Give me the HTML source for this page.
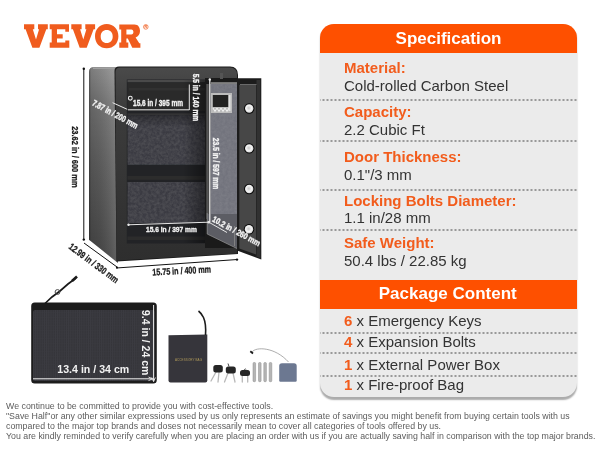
<!DOCTYPE html>
<html><head><meta charset="utf-8">
<style>
html,body{margin:0;padding:0;width:600px;height:450px;overflow:hidden;background:#fff;}
body{position:relative;font-family:"Liberation Sans",sans-serif;}
#panel,#foot,svg{will-change:transform;}
.a{position:absolute;white-space:nowrap;}
#panel{position:absolute;left:320px;top:24px;width:257px;height:373px;background:#ebebeb;border-radius:14px;box-shadow:0 2.5px 1.5px rgba(0,0,0,0.33);overflow:hidden;}
.hdr{position:absolute;left:0;width:257px;background:#fe5000;color:#fff;font-weight:bold;font-size:17px;text-align:center;}
.lab{position:absolute;left:24px;color:#f25c1c;font-weight:bold;font-size:15px;line-height:15px;}
.val{position:absolute;left:24px;color:#333;font-size:15px;line-height:15px;}
.dot{position:absolute;left:0;width:257px;height:2px;background-image:radial-gradient(circle,#999 0.9px,transparent 1.1px);background-size:4px 2px;background-position:1.5px 0;}
.it{position:absolute;left:24px;color:#333;font-size:15px;line-height:15px;}
.it b{color:#f25c1c;}
#foot{position:absolute;left:6px;top:401px;font-size:8.8px;line-height:10px;color:#5c5c5c;}
</style></head><body>

<svg class="a" style="left:0;top:0" width="320" height="400" viewBox="0 0 320 400">

  <defs>
    <linearGradient id="gsideV" x1="0" y1="0" x2="0" y2="1">
      <stop offset="0" stop-color="#8e8e8e"/><stop offset="0.18" stop-color="#737373"/><stop offset="0.5" stop-color="#5e5e5e"/><stop offset="1" stop-color="#464646"/>
    </linearGradient>
    <linearGradient id="gsideH" gradientUnits="userSpaceOnUse" x1="89" y1="0" x2="115" y2="0">
      <stop offset="0" stop-color="#000" stop-opacity="0.4"/><stop offset="0.08" stop-color="#000" stop-opacity="0.12"/><stop offset="0.4" stop-color="#000" stop-opacity="0.05"/><stop offset="0.8" stop-color="#fff" stop-opacity="0.06"/><stop offset="1" stop-color="#fff" stop-opacity="0.12"/>
    </linearGradient>
    <linearGradient id="gshadeR" x1="0" y1="0" x2="1" y2="0">
      <stop offset="0" stop-color="#000" stop-opacity="0"/><stop offset="0.7" stop-color="#000" stop-opacity="0"/><stop offset="1" stop-color="#000" stop-opacity="0.45"/>
    </linearGradient>
    <linearGradient id="gframe" x1="0" y1="0" x2="0" y2="1">
      <stop offset="0" stop-color="#4a4a4a"/><stop offset="0.2" stop-color="#3c3c3c"/><stop offset="1" stop-color="#2e2e2e"/>
    </linearGradient>
    <linearGradient id="gshadeT" x1="0" y1="0" x2="0" y2="1">
      <stop offset="0" stop-color="#000" stop-opacity="0.3"/><stop offset="1" stop-color="#000" stop-opacity="0"/>
    </linearGradient>
    <radialGradient id="gbolt" cx="0.45" cy="0.45" r="0.6">
      <stop offset="0" stop-color="#c8c8c8"/><stop offset="0.55" stop-color="#f4f4f4"/><stop offset="1" stop-color="#d0d0d0"/>
    </radialGradient>
    <filter id="felt" x="0" y="0" width="1" height="1">
      <feTurbulence type="fractalNoise" baseFrequency="0.35" numOctaves="3" seed="5" result="n"/>
      <feColorMatrix in="n" type="matrix" values="1.2 0 0 0 -0.35  1.2 0 0 0 -0.35  1.2 0 0 0 -0.35  0 0 0 0 0.05" result="g"/>
      <feComposite in="g" in2="SourceGraphic" operator="in" result="gi"/>
      <feMerge><feMergeNode in="SourceGraphic"/><feMergeNode in="gi"/></feMerge>
    </filter>
  </defs>
  <!-- safe -->
  <g id="safe">
    <path d="M89,72 Q89,67 94,67 L118,67 L118,263 L89,239.7 Z" fill="url(#gsideV)"/>
    <path d="M89,72 Q89,67 94,67 L118,67 L118,263 L89,239.7 Z" fill="url(#gsideH)"/>
    <rect x="93" y="67.5" width="21" height="1.5" fill="#a0a0a0"/>
        <path d="M114.5,71 Q114.5,66.5 119,66.5 L230,66.5 Q238,66.5 238,75 L238,254 L116.5,261.5 Z" fill="#1a1a1a"/>
    <path d="M115.5,72 Q115.5,67.5 120,67.5 L230,67.5 Q237,67.5 237,75 L237,253.5 L116.5,260.5 Z" fill="url(#gframe)"/>
    <rect x="126.8" y="79.5" width="80.5" height="164" fill="#222326"/>
    <rect x="127.5" y="80" width="79" height="2.3" fill="#4a4a4a"/>
    <rect x="127.5" y="82.5" width="79" height="28.5" fill="#2a2a2a"/>
    <rect x="129" y="88" width="77" height="2.5" fill="#313131"/>
    <rect x="127.5" y="115.3" width="79" height="49.5" fill="#3c3e45" filter="url(#felt)"/>
    <rect x="127.5" y="115.3" width="79" height="12" fill="url(#gshadeT)"/>
    <rect x="127.5" y="113.5" width="79" height="1.3" fill="#383838"/>
    <rect x="127.5" y="176" width="79" height="3.8" fill="#2c2c2c"/>
    <rect x="127.5" y="182" width="79" height="41" fill="#3c3e45" filter="url(#felt)"/>
    <rect x="127.5" y="236.5" width="79" height="3.5" fill="#2c2c2c"/>
    <rect x="127.5" y="80" width="79" height="163" fill="url(#gshadeR)"/>
    <!-- door inner -->
    <rect x="205" y="78" width="33" height="170" fill="#1a1a1a"/>
    <rect x="206.3" y="84" width="2.5" height="135" fill="#555"/>
    <rect x="210.3" y="84" width="27" height="131" fill="#767780" filter="url(#felt)"/>
    <path d="M207,214 L237,214 L237,248.5 L207,234 Z" fill="#5c5d64"/>
    <path d="M207.2,213 L207.2,234 L237,248.5" stroke="#8a8a8a" stroke-width="0.8" fill="none"/>
    <path d="M234.5,226 L234.5,246" stroke="#8a8a8a" stroke-width="0.8" fill="none"/>
    <rect x="211" y="82.3" width="47" height="1.5" fill="#9a9a9a"/>
    <rect x="220" y="73" width="3" height="6" fill="#555"/>
    <rect x="211" y="93" width="21" height="20" fill="#bcbcbc"/>
    <rect x="212.8" y="95" width="15.7" height="12" fill="#222"/>
    <rect x="228.5" y="95" width="2" height="16" fill="#e0e0e0"/>
    <path d="M213,108 L215,111.5 L217,108 L219,111.5 L221,108 L223,111.5 L225,108 L227,111.5 L229,108" stroke="#f2f2f2" stroke-width="1" fill="none"/>
    <rect x="209" y="79" width="1.5" height="143" fill="#d0d0d0"/><circle cx="209.8" cy="79.5" r="1.2" fill="#eee"/>
    <!-- door front -->
    <path d="M237,78.3 L261.3,78.3 L261.3,259.6 L237,250.5 Z" fill="#1c1c1c"/>
    <path d="M256.5,80 L260.3,80 L260.3,258 L256.5,256.5 Z" fill="#313131"/>
    <path d="M239.3,85 L256,85 L256,254.5 L239.3,248.5 Z" fill="#474747"/>
    <rect x="240" y="84" width="16.5" height="1" fill="#6a6a6a"/>
    <g fill="#0a0a0a"><circle cx="249.2" cy="108.5" r="5.2"/><circle cx="249.2" cy="148.4" r="5.2"/><circle cx="249.2" cy="189" r="5.2"/><circle cx="249" cy="229.3" r="5.2"/></g>
    <g fill="url(#gbolt)"><circle cx="249.2" cy="108.5" r="4.2"/><circle cx="249.2" cy="148.4" r="4.2"/><circle cx="249.2" cy="189" r="4.2"/><circle cx="249" cy="229.3" r="4.2"/></g>
  </g>
  <!-- dimension lines -->
  <g stroke="#111" stroke-width="1" fill="none">
    <line x1="83.8" y1="68.5" x2="83.8" y2="240"/>
    <line x1="84" y1="243" x2="117" y2="267"/>
    <line x1="116.3" y1="268" x2="237.5" y2="259.5"/>
  </g>
  <g fill="#111"><circle cx="83.8" cy="68.8" r="1.2"/><circle cx="83.8" cy="239.6" r="1.2"/><circle cx="237" cy="259.6" r="1.2"/><circle cx="117" cy="267.6" r="1.1"/></g>
  <g fill="#eee"><circle cx="128.5" cy="224.8" r="1.2"/><circle cx="208.8" cy="222.2" r="1.3"/></g>
  <g stroke="#e6e6e6" stroke-width="1" fill="none">
    <line x1="128" y1="109.8" x2="189.3" y2="109.8"/>
    <line x1="189.3" y1="84.5" x2="189.3" y2="110"/>
    <line x1="128" y1="224.8" x2="208.8" y2="222.2"/>
    <line x1="112.6" y1="102.7" x2="127.2" y2="109.3"/>
    <line x1="208.8" y1="222.2" x2="227" y2="232.5"/>
  </g>
  <circle cx="130.3" cy="98.2" r="1.9" fill="none" stroke="#eee" stroke-width="1.1"/>
  <g font-family="Liberation Sans" font-weight="bold">
    <text transform="translate(72,126.2) rotate(90)" font-size="9.5" textLength="61.4" lengthAdjust="spacingAndGlyphs" fill="#1a1a1a" stroke="#1a1a1a" stroke-width="0.3">23.62 in / 600 mm</text>
    <text x="133" y="106.2" font-size="8.5" textLength="50" lengthAdjust="spacingAndGlyphs" fill="#f4f4f4" stroke="#f4f4f4" stroke-width="0.35">15.6 in / 395 mm</text>
    <text transform="translate(193,73.7) rotate(90)" font-size="8.8" textLength="47.6" lengthAdjust="spacingAndGlyphs" fill="#f4f4f4" stroke="#f4f4f4" stroke-width="0.35">5.5 in / 140 mm</text>
    <text transform="translate(213,137.8) rotate(90)" font-size="8.8" textLength="51.5" lengthAdjust="spacingAndGlyphs" fill="#f4f4f4" stroke="#f4f4f4" stroke-width="0.35">23.5 in / 597 mm</text>
    <text x="146" y="232.3" font-size="8" textLength="50.8" lengthAdjust="spacingAndGlyphs" fill="#f4f4f4" stroke="#f4f4f4" stroke-width="0.35">15.6 in / 397 mm</text>
    <text transform="translate(91.5,105) rotate(28.3)" font-size="9" textLength="50.5" lengthAdjust="spacingAndGlyphs" fill="#f4f4f4" stroke="#f4f4f4" stroke-width="0.35">7.87 in / 200 mm</text>
    <text transform="translate(211.5,221) rotate(28.5)" font-size="8.5" textLength="53.5" lengthAdjust="spacingAndGlyphs" fill="#f4f4f4" stroke="#f4f4f4" stroke-width="0.35">10.2 in / 260 mm</text>
    <text transform="translate(68,248) rotate(36.7)" font-size="9.5" textLength="59.5" lengthAdjust="spacingAndGlyphs" fill="#1a1a1a" stroke="#1a1a1a" stroke-width="0.3">12.99 in / 330 mm</text>
    <text transform="translate(152.5,275.5) rotate(-3)" font-size="9.5" textLength="58.8" lengthAdjust="spacingAndGlyphs" fill="#1a1a1a" stroke="#1a1a1a" stroke-width="0.3">15.75 in / 400 mm</text>
  </g>

  <!-- bag -->
  <defs>
    <pattern id="mesh" width="2.2" height="2.6" patternUnits="userSpaceOnUse">
      <rect width="2.2" height="2.6" fill="#35353a"/><rect width="0.8" height="2.6" fill="#3c3c42"/><rect width="2.2" height="0.5" fill="#39393f"/>
    </pattern>
  </defs>
  <g id="bag">
    <rect x="31.2" y="302.5" width="125.6" height="81" rx="3.5" fill="#1c1c1c"/>
    <rect x="33" y="310" width="121.5" height="71" rx="2" fill="url(#mesh)"/>
    <path d="M45,303.5 L52,297 L60,291 L68,284 L76,278" stroke="#1a1a1a" stroke-width="1.7" fill="none"/><path d="M72,281 L77,276.5" stroke="#1a1a1a" stroke-width="2.6"/>
    <circle cx="57.5" cy="292" r="2.4" fill="none" stroke="#444" stroke-width="1"/>
    <line x1="33" y1="378.8" x2="152" y2="378.8" stroke="#eee" stroke-width="1"/><path d="M148.5,377 L152.5,378.8 L148.5,380.6" stroke="#eee" stroke-width="0.9" fill="none"/>
    <line x1="153.6" y1="305" x2="153.6" y2="381.5" stroke="#eee" stroke-width="1"/><path d="M151.8,377.5 L153.6,381.5 L155.4,377.5" stroke="#eee" stroke-width="0.9" fill="none"/>
    <text x="57.3" y="372.7" font-family="Liberation Sans" font-weight="bold" font-size="11" textLength="72" lengthAdjust="spacingAndGlyphs" fill="#f2f2f2">13.4 in / 34 cm</text>
    <text transform="translate(142,310) rotate(90)" font-family="Liberation Sans" font-weight="bold" font-size="11" textLength="65.3" lengthAdjust="spacingAndGlyphs" fill="#f2f2f2">9.4 in / 24 cm</text>
  </g>
  <!-- accessories -->
  <g id="acc">
    <path d="M168.5,335.2 L207.3,334.5 L207.3,380.5 Q207.3,382.5 205.3,382.5 L170.5,382.5 Q168.5,382.5 168.5,380.5 Z" fill="#36353b"/>
    <path d="M205.5,335 C206,328 205.5,322 203.5,317.5 C202,314.5 200.5,312.5 198.5,311" stroke="#1c1c1c" stroke-width="1.6" fill="none"/>
    <text x="175" y="361" font-family="Liberation Sans" font-size="3" fill="#b09a5a" textLength="27">ACCESSORY BAG</text>
    <g stroke="#b8b8b8" stroke-width="1.3" stroke-linecap="round"><line x1="216" y1="372" x2="211" y2="381"/><line x1="219" y1="372" x2="218" y2="382"/><line x1="228" y1="373" x2="224.5" y2="382"/><line x1="233" y1="373" x2="235" y2="382"/><line x1="242.3" y1="375" x2="242.3" y2="382"/><line x1="247.7" y1="375" x2="247.7" y2="382"/></g>
    <g fill="#262626"><rect x="213.3" y="365" width="9.5" height="7.5" rx="2.5"/><rect x="225.8" y="366.5" width="10" height="7" rx="2.5"/><rect x="240" y="370" width="10" height="6" rx="2.5"/></g>
    <path d="M229,366.5 L228,363.5" stroke="#444" stroke-width="1"/><path d="M244,370 Q245,367.5 246.5,370" stroke="#444" stroke-width="0.8" fill="none"/>
    <g fill="#b5b5b5" stroke="#8a8a8a" stroke-width="0.5"><rect x="253" y="362.5" width="2.6" height="19.2" rx="1"/><rect x="258.5" y="362.5" width="2.6" height="19.2" rx="1"/><rect x="263.8" y="362.5" width="2.6" height="19.2" rx="1"/><rect x="269.2" y="362.5" width="2.6" height="19.2" rx="1"/></g>
    <path d="M252,352 C256,346.5 275,347 288.5,362" stroke="#8a8a8a" stroke-width="0.7" fill="none"/>
    <path d="M250.3,351.3 L253,353.5" stroke="#1a1a1a" stroke-width="1.8"/>
    <path d="M279.2,366 Q279.2,363.3 282,363.3 L294,363.3 Q296.7,363.3 296.7,366 L296.7,380.5 Q296.7,381.7 295.5,381.7 L280.4,381.7 Q279.2,381.7 279.2,380.5 Z" fill="#6c7891"/>
  </g>
  <!-- VEVOR logo -->
  <g fill="#f05c1e" fill-rule="evenodd"><path d="M24,24.3 H34.3 V29.3 H32.8 L36,39.6 L39.1,29.3 H38 V24.3 H47.8 V29.3 H46.3 L39.4,47.8 H32.4 L25.6,29.3 H24 Z"/><path d="M49.7,24.3 H69 V31.7 H65.3 V29.3 H57 V34.2 H62.7 V38.4 H57 V42.6 H65.3 V40.5 H69.3 V47.8 H49.7 V42.6 H51.7 V29.3 H49.7 Z"/><path transform="translate(47.3,0)" d="M24,24.3 H34.3 V29.3 H32.8 L36,39.6 L39.1,29.3 H38 V24.3 H47.8 V29.3 H46.3 L39.4,47.8 H32.4 L25.6,29.3 H24 Z"/><path d="M106.7,24 C113.5,24 118.4,29.2 118.4,36.2 C118.4,43.2 113.5,48.3 106.7,48.3 C99.9,48.3 95,43.2 95,36.2 C95,29.2 99.9,24 106.7,24 Z M106.7,30 C103,30 100.7,32.6 100.7,36.5 C100.7,40.4 103,43 106.7,43 C110.4,43 112.7,40.4 112.7,36.5 C112.7,32.6 110.4,30 106.7,30 Z"/><path d="M119.3,24.4 H134.5 C138.3,24.4 140,27.3 140,31 C140,34.2 138.3,36.6 135.6,37.6 L139.3,43.2 H140.4 V47.8 H132.3 L127.8,38.6 H126.4 V42.6 H128.3 V47.8 H119.3 V42.6 H121.2 V29.5 H119.3 Z M126.4,29.4 V34.4 H131.3 C132.7,34.4 133.4,33.3 133.4,31.9 C133.4,30.5 132.7,29.4 131.3,29.4 Z"/>
  <circle cx="145.8" cy="26.9" r="2.3" fill="none" stroke="#f05c1e" stroke-width="0.7"/><text x="145.8" y="28.3" font-size="3.6" font-weight="bold" text-anchor="middle" font-family="Liberation Sans">R</text></g>
</svg>

<div id="panel">
  <div class="hdr" style="top:0;height:28.6px;line-height:30px;">Specification</div>
  <div class="lab" style="top:35.5px">Material:</div>
  <div class="val" style="top:53.5px">Cold-rolled Carbon Steel</div>
  <div class="dot" style="top:75px"></div>
  <div class="lab" style="top:79.5px">Capacity:</div>
  <div class="val" style="top:97.5px">2.2 Cubic Ft</div>
  <div class="dot" style="top:116px"></div>
  <div class="lab" style="top:124.5px">Door Thickness:</div>
  <div class="val" style="top:142.5px">0.1"/3 mm</div>
  <div class="dot" style="top:165px"></div>
  <div class="lab" style="top:168.5px">Locking Bolts Diameter:</div>
  <div class="val" style="top:186px">1.1 in/28 mm</div>
  <div class="dot" style="top:205px"></div>
  <div class="lab" style="top:210.5px">Safe Weight:</div>
  <div class="val" style="top:228.8px">50.4 lbs / 22.85 kg</div>
  <div class="hdr" style="top:256px;height:28.6px;line-height:28px;text-indent:-1.5px;">Package Content</div>
  <div class="it" style="top:289px"><b>6</b> x Emergency Keys</div>
  <div class="dot" style="top:308px"></div>
  <div class="it" style="top:310px"><b>4</b> x Expansion Bolts</div>
  <div class="dot" style="top:328px"></div>
  <div class="it" style="top:333px"><b>1</b> x External Power Box</div>
  <div class="dot" style="top:351px"></div>
  <div class="it" style="top:353px"><b>1</b> x Fire-proof Bag</div>
</div>

<div id="foot">We continue to be committed to provide you with cost-effective tools.<br>"Save Half"or any other similar expressions used by us only represents an estimate of savings you might benefit from buying certain tools with us<br>compared to the major top brands and doses not necessarily mean to cover all categories of tools offered by us.<br>You are kindly reminded to verify carefully when you are placing an order with us if you are actually saving half in comparison with the top major brands.</div>

</body></html>
